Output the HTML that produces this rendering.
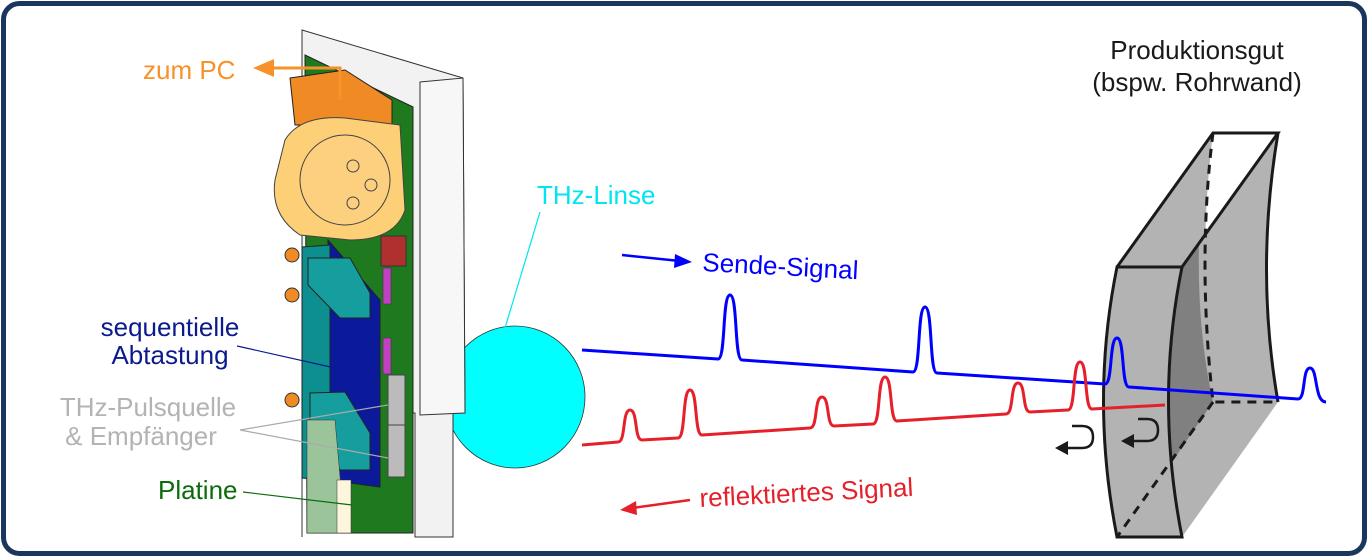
<!DOCTYPE html>
<html><head><meta charset="utf-8"><style>
html,body{margin:0;padding:0;background:#fff;}
svg{display:block;}
text{font-family:"Liberation Sans",sans-serif;}
</style></head><body>
<svg width="1368" height="557" viewBox="0 0 1368 557" xmlns="http://www.w3.org/2000/svg">
<rect x="3.5" y="3.5" width="1361" height="550" rx="16" fill="#fff" stroke="#1b365d" stroke-width="5"/>

<!-- lens -->
<ellipse cx="515" cy="397" rx="70" ry="71" fill="#00ffff" stroke="#333" stroke-width="0.8"/>

<!-- housing -->
<path d="M302,30 L463,78 L465,413 L453,413 L453,537 L415,537 L415,413 L302,413 Z" fill="#f2f2f2" stroke="#333" stroke-width="1"/>
<path d="M420,82 L463,78 L465,413 L420,415 Z" fill="#f7f7f7" stroke="#333" stroke-width="1"/>
<path d="M302,30 L302,537" stroke="#333" stroke-width="1"/>
<!-- green board -->
<path d="M305,55 L413,107 L413,533 L307,533 Z" fill="#1f7a1f" stroke="#222" stroke-width="1"/>
<!-- orange connector -->
<path d="M290,78 L345,70 L392,100 L392,125 L295,125 Z" fill="#f08a24" stroke="#222" stroke-width="1"/>
<!-- XLR -->
<path d="M285,140 Q300,115 345,118 L400,125 L405,210 Q395,240 350,240 L300,235 Q270,215 275,180 Z" fill="#fdcf76" stroke="#444" stroke-width="1"/>
<circle cx="345" cy="180" r="45" fill="#fdd080" stroke="#444" stroke-width="1"/>
<circle cx="353" cy="166" r="6" fill="#fdd080" stroke="#444"/><circle cx="371" cy="185" r="6" fill="#fdd080" stroke="#444"/><circle cx="353" cy="203" r="6" fill="#fdd080" stroke="#444"/>
<!-- red caps -->
<rect x="381" y="236" width="25" height="30" fill="#b03030" stroke="#333"/>
<!-- magenta -->
<rect x="383" y="268" width="8" height="36" fill="#c040c0" stroke="#333" stroke-width=".5"/>
<rect x="383" y="338" width="8" height="36" fill="#c040c0" stroke="#333" stroke-width=".5"/>
<!-- blue board -->
<path d="M328,240 L380,300 L380,487 L328,480 Z" fill="#0a1a9a" stroke="#222" stroke-width="1"/>
<!-- teal -->
<path d="M302,247 L330,245 L330,480 L302,478 Z" fill="#0e8f8f" stroke="#222" stroke-width="1"/>
<path d="M308,258 L350,258 L370,293 L370,318 L340,318 L308,285 Z" fill="#169e9e" stroke="#222" stroke-width="1"/>
<path d="M310,393 L345,392 L370,433 L370,470 L340,470 L310,430 Z" fill="#169e9e" stroke="#222" stroke-width="1"/>
<!-- light green lower -->
<path d="M307,420 L335,420 L345,533 L307,533 Z" fill="#9bc49b" stroke="#333" stroke-width=".5"/>
<rect x="337" y="480" width="14" height="53" fill="#fdf5dc" stroke="#333" stroke-width=".5"/>
<!-- gray chips -->
<rect x="388" y="375" width="17" height="50" fill="#bbb" stroke="#444"/>
<rect x="388" y="425" width="17" height="52" fill="#bbb" stroke="#444"/>
<!-- orange tabs -->
<circle cx="292" cy="255" r="7" fill="#f08a24" stroke="#333"/>
<circle cx="292" cy="295" r="7" fill="#f08a24" stroke="#333"/>
<circle cx="292" cy="400" r="7" fill="#f08a24" stroke="#333"/>

<!-- wall -->
<path d="M1117,267 L1213,133 Q1197,260 1213,402 L1117,537 Q1090,400 1117,267 Z" fill="#b3b3b3"/>
<path d="M1182,267 L1278,133 Q1255,270 1278,402 L1182,537 Q1155,400 1182,267 Z" fill="#b3b3b3"/>
<path d="M1182,267 L1199,243 Q1197,330 1213,402 L1170,465 Q1163,380 1182,267 Z" fill="#808080"/>
<path d="M1117,267 L1182,267 Q1155,400 1182,537 L1117,537 Q1090,400 1117,267 Z" fill="#b3b3b3" stroke="#1a1a1a" stroke-width="3"/>
<path d="M1117,267 L1213,133 L1278,133 L1182,267" fill="none" stroke="#1a1a1a" stroke-width="3"/>
<path d="M1278,133 Q1255,270 1278,402" fill="none" stroke="#1a1a1a" stroke-width="3"/>
<path d="M1213,133 Q1197,260 1213,402 L1278,402 M1213,402 L1117,537" fill="none" stroke="#1a1a1a" stroke-width="3" stroke-dasharray="9,7"/>

<!-- blue signal -->
<path d="M582,350 L718,359 C726,359 722,295 730,295 C738,295 734,360 742,360 L913,372 C921,372 917,307 925,307 C933,307 929,373 937,373 L1105,384 C1113,384 1109,338 1117,338 C1125,338 1121,387 1129,387 L1298,399 C1306,399 1302,368 1310,368 C1318,368 1314,402 1326,402" fill="none" stroke="#0000ff" stroke-width="3"/>
<!-- red signal -->
<path d="M582,445 L618,442 C626,442 622,410 630,410 C638,410 634,440 642,440 L678,438 C686,438 682,390 690,390 C698,390 694,435 702,435 L810,428 C818,428 814,397 822,397 C830,397 826,426 834,426 L873,424 C881,424 877,377 885,377 C893,377 889,421 897,421 L1006,414 C1014,414 1010,383 1018,383 C1026,383 1022,412 1030,412 L1068,410 C1076,410 1072,362 1080,362 C1088,362 1084,409 1092,409 L1165,405" fill="none" stroke="#e5202a" stroke-width="3"/>

<!-- return arrows -->
<path d="M1066,448 L1082,448 Q1093,448 1093,437 Q1093,426 1082,426 L1072,426" fill="none" stroke="#1a1a1a" stroke-width="2.5"/>
<path d="M1055,448 L1068,441 L1068,455 Z" fill="#1a1a1a"/>
<path d="M1132,441 L1147,441 Q1158,441 1158,430 Q1158,419 1147,419 L1138,419" fill="none" stroke="#1a1a1a" stroke-width="2.5"/>
<path d="M1121,441 L1134,434 L1134,448 Z" fill="#1a1a1a"/>

<!-- labels -->
<text x="143" y="79" font-size="26" fill="#f7922a">zum PC</text>
<path d="M340,100 L340,68 L268,68" fill="none" stroke="#f7922a" stroke-width="3"/>
<path d="M253,68 L274,59 L274,77 Z" fill="#f7922a"/>

<text x="537" y="204" font-size="26" fill="#00e5ee">THz-Linse</text>
<path d="M540,212 L505,328" stroke="#00e5ee" stroke-width="1.2"/>

<path d="M622,255 L680,261" stroke="#0000ff" stroke-width="2.5"/>
<path d="M692,262 L675,254 L674,268 Z" fill="#0000ff"/>
<text x="702" y="271" font-size="26" fill="#0000ff" transform="rotate(3 702 271)">Sende-Signal</text>

<path d="M690,500 L632,508" stroke="#e5202a" stroke-width="2.5"/>
<path d="M620,510 L636,501 L637,515 Z" fill="#e5202a"/>
<text x="700" y="507" font-size="26" fill="#e5202a" transform="rotate(-3 700 507)">reflektiertes Signal</text>

<text x="1197" y="59" font-size="26" fill="#1a1a1a" text-anchor="middle">Produktionsgut</text>
<text x="1197" y="91" font-size="26" fill="#1a1a1a" text-anchor="middle">(bspw. Rohrwand)</text>

<text x="170" y="336" font-size="26" fill="#0b1a8c" text-anchor="middle">sequentielle</text>
<text x="170" y="364" font-size="26" fill="#0b1a8c" text-anchor="middle">Abtastung</text>
<path d="M237,346 L335,368" stroke="#0b1a8c" stroke-width="1.2"/>

<text x="148" y="416" font-size="26" fill="#b3b3b3" text-anchor="middle">THz-Pulsquelle</text>
<text x="141" y="445" font-size="26" fill="#b3b3b3" text-anchor="middle">&amp; Empfänger</text>
<path d="M240,430 L388,405 M240,430 L388,458" stroke="#aaa" stroke-width="1.2" fill="none"/>

<text x="158" y="499" font-size="26" fill="#0c6b0c">Platine</text>
<path d="M243,492 L352,505" stroke="#0c6b0c" stroke-width="1.2"/>
</svg>
</body></html>
